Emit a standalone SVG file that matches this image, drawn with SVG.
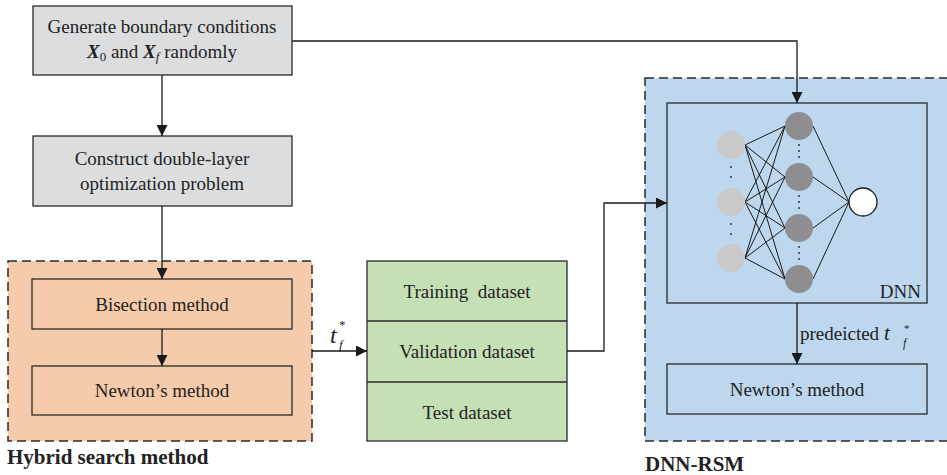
<svg xmlns="http://www.w3.org/2000/svg" width="947" height="475" viewBox="0 0 947 475">
<defs>
<marker id="ah" viewBox="0 0 10 10" refX="10" refY="5" markerWidth="11" markerHeight="11" markerUnits="userSpaceOnUse" orient="auto">
<path d="M0,0 L10,5 L0,10 z" fill="#1a1a1a"/>
</marker>
<style>
.t{font-family:"Liberation Serif","DejaVu Serif",serif;font-size:19px;fill:#222;text-anchor:middle}
.b{font-family:"Liberation Serif","DejaVu Serif",serif;font-size:21px;font-weight:bold;fill:#222}
.s{font-family:"Liberation Serif","DejaVu Serif",serif;fill:#222}
.box{stroke:#2a2a2a;stroke-width:1.3}
.dash{stroke:#2a2a2a;stroke-width:1.5;stroke-dasharray:9,5}
.c{stroke:#1a1a1a;stroke-width:1.3;fill:none}
.w{stroke:#1a1a1a;stroke-width:1}
.in{fill:#c9c9c9}
.hd{fill:#8e8e90}
.dot{fill:#333}
</style>
</defs>
<rect width="947" height="475" fill="#fff"/>

<g id="hybrid">
<rect x="8" y="261" width="304" height="180" fill="#f6cbab" class="dash"/>
<text class="b" x="7" y="464">Hybrid search method</text>
</g>
<g id="dnnrsm">
<rect x="645" y="78" width="306" height="363" fill="#bdd7ee" class="dash"/>
<text class="b" x="645" y="471">DNN-RSM</text>
</g>

<g id="gen">
<rect x="33" y="6" width="259" height="69" fill="#dcdddf" class="box"/>
<text class="t" x="162" y="33">Generate boundary conditions</text>
<text class="t" x="162" y="58"><tspan font-weight="bold" font-style="italic">X</tspan><tspan font-size="13" dy="3">0</tspan><tspan dy="-3"> and </tspan><tspan font-weight="bold" font-style="italic">X</tspan><tspan font-size="13" font-style="italic" dy="3">f</tspan><tspan dy="-3"> randomly</tspan></text>
</g>
<g id="construct">
<rect x="33" y="136" width="259" height="70" fill="#dcdddf" class="box"/>
<text class="t" x="162" y="165">Construct double-layer</text>
<text class="t" x="162" y="190">optimization problem</text>
</g>
<g id="bisection">
<rect x="32" y="279" width="260" height="50" fill="#f6cbab" class="box"/>
<text class="t" x="162" y="311">Bisection method</text>
</g>
<g id="newton1">
<rect x="32" y="366" width="260" height="49" fill="#f6cbab" class="box"/>
<text class="t" x="162" y="397">Newton’s method</text>
</g>
<g id="datasets">
<rect x="367" y="261" width="200" height="180" fill="#c6e0b5" class="box"/>
<line x1="367" y1="321" x2="567" y2="321" class="box"/>
<line x1="367" y1="382" x2="567" y2="382" class="box"/>
<text class="t" x="467" y="298" xml:space="preserve">Training  dataset</text>
<text class="t" x="467" y="358">Validation dataset</text>
<text class="t" x="467" y="419">Test dataset</text>
</g>
<g id="dnn">
<rect x="667" y="103" width="260" height="200" fill="none" class="box"/>
<text class="t" x="921" y="298" style="text-anchor:end">DNN</text>
<g id="weights">
<line class="w" x1="745" y1="145" x2="785" y2="126"/><line class="w" x1="745" y1="145" x2="785" y2="177"/><line class="w" x1="745" y1="145" x2="785" y2="228"/><line class="w" x1="745" y1="145" x2="785" y2="279"/>
<line class="w" x1="745" y1="202" x2="785" y2="126"/><line class="w" x1="745" y1="202" x2="785" y2="177"/><line class="w" x1="745" y1="202" x2="785" y2="228"/><line class="w" x1="745" y1="202" x2="785" y2="279"/>
<line class="w" x1="745" y1="258" x2="785" y2="126"/><line class="w" x1="745" y1="258" x2="785" y2="177"/><line class="w" x1="745" y1="258" x2="785" y2="228"/><line class="w" x1="745" y1="258" x2="785" y2="279"/>
<line class="w" x1="813" y1="126" x2="849" y2="202"/><line class="w" x1="813" y1="177" x2="849" y2="202"/><line class="w" x1="813" y1="228" x2="849" y2="202"/><line class="w" x1="813" y1="279" x2="849" y2="202"/>
</g>
<circle class="in" cx="731" cy="145" r="14"/>
<circle class="in" cx="731" cy="202" r="14"/>
<circle class="in" cx="731" cy="258" r="14"/>
<circle class="hd" cx="799" cy="126" r="14"/>
<circle class="hd" cx="799" cy="177" r="14"/>
<circle class="hd" cx="799" cy="228" r="14"/>
<circle class="hd" cx="799" cy="279" r="14"/>
<circle cx="863" cy="202" r="14" fill="#fff" stroke="#1a1a1a" stroke-width="1.3"/>
<g id="dots">
<circle class="dot" cx="731" cy="167" r="1"/><circle class="dot" cx="731" cy="177" r="1"/>
<circle class="dot" cx="731" cy="224" r="1"/><circle class="dot" cx="731" cy="234" r="1"/>
<circle class="dot" cx="799" cy="145" r="1"/><circle class="dot" cx="799" cy="151" r="1"/><circle class="dot" cx="799" cy="157" r="1"/>
<circle class="dot" cx="799" cy="196" r="1"/><circle class="dot" cx="799" cy="202" r="1"/><circle class="dot" cx="799" cy="208" r="1"/>
<circle class="dot" cx="799" cy="247" r="1"/><circle class="dot" cx="799" cy="253" r="1"/><circle class="dot" cx="799" cy="259" r="1"/>
</g>
</g>
<g id="newton2">
<rect x="667" y="364" width="260" height="50" fill="none" class="box"/>
<text class="t" x="797" y="396">Newton’s method</text>
</g>

<g id="connectors">
<line class="c" x1="162" y1="75" x2="162" y2="136" marker-end="url(#ah)"/>
<line class="c" x1="162" y1="206" x2="162" y2="279" marker-end="url(#ah)"/>
<line class="c" x1="162" y1="329" x2="162" y2="366" marker-end="url(#ah)"/>
<polyline class="c" points="292,41 797,41 797,103" marker-end="url(#ah)"/>
<line class="c" x1="312" y1="351" x2="367" y2="351" marker-end="url(#ah)"/>
<polyline class="c" points="567,351 604,351 604,203 667,203" marker-end="url(#ah)"/>
<line class="c" x1="797" y1="303" x2="797" y2="364" marker-end="url(#ah)"/>
<text class="s" x="330" y="343" font-size="24" font-style="italic">t</text>
<text class="s" x="339" y="329" font-size="13">*</text>
<text class="s" x="339" y="349" font-size="13" font-style="italic">f</text>
<text class="s" x="800" y="340" font-size="19">predeicted <tspan font-style="italic" font-size="21">t</tspan></text>
<text class="s" x="904" y="332" font-size="11">*</text>
<text class="s" x="903" y="347" font-size="12" font-style="italic">f</text>
</g>
</svg>
